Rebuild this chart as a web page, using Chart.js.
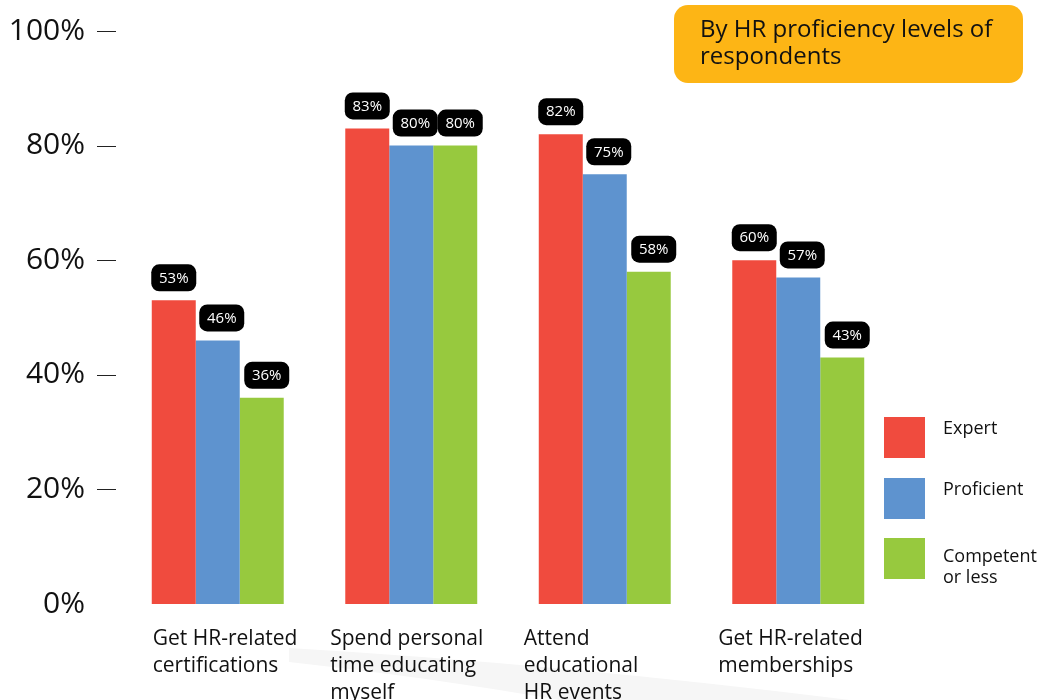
<!DOCTYPE html>
<html>
<head>
<meta charset="utf-8">
<script src="https://cdn.jsdelivr.net/npm/chart.js@4/dist/chart.umd.min.js"></script>
<style>
    body { margin: 0; background: #fff; }
    #wrap { width: 1044px; height: 700px; }
</style>
</head>
<body>
<div id="wrap"><canvas id="chart" width="1044" height="700"></canvas></div>
<script>
// activities asked about, one entry per line of the axis label
var categories = [
    ["Get HR-related", "certifications"],
    ["Spend personal", "time educating", "myself"],
    ["Attend", "educational", "HR events"],
    ["Get HR-related", "memberships"]
];
var levels = ["Expert", "Proficient", ["Competent", "or less"]];
var expert = [53, 83, 82, 60];
var proficient = [46, 80, 75, 57];
var competent = [36, 80, 58, 43];
var yTicks = [0, 20, 40, 60, 80, 100];
var boxTitle = ["By HR proficiency levels of", "respondents"];

var colors = ["#F04B3E", "#5E93CF", "#97C93E"];
var FONT = "'Open Sans', 'Noto Sans', sans-serif";

// where each category label starts, relative to the group centre
var labelShift = [-65, -81, -81, -80];
// small nudge of the value tags off the bar centre
var tagShift = [0, 4, 5];

function roundRect(ctx, x, y, w, h, r) {
    ctx.beginPath();
    ctx.moveTo(x + r, y);
    ctx.arcTo(x + w, y, x + w, y + h, r);
    ctx.arcTo(x + w, y + h, x, y + h, r);
    ctx.arcTo(x, y + h, x, y, r);
    ctx.arcTo(x, y, x + w, y, r);
    ctx.closePath();
}

var decorations = {
    id: "decorations",
    beforeDraw: function (chart) {
        var ctx = chart.ctx;
        // faint grey sweep under the labels
        ctx.save();
        ctx.fillStyle = "#f6f6f6";
        ctx.beginPath();
        ctx.moveTo(289, 648);
        ctx.quadraticCurveTo(560, 664, 850, 700);
        ctx.lineTo(560, 700);
        ctx.quadraticCurveTo(420, 676, 289, 662);
        ctx.closePath();
        ctx.fill();
        ctx.restore();
    },
    afterDraw: function (chart) {
        var ctx = chart.ctx;
        var y = chart.scales.y;
        var x = chart.scales.x;
        ctx.save();

        // dashes next to the percent labels
        ctx.strokeStyle = "#222";
        ctx.lineWidth = 1;
        yTicks.forEach(function (v) {
            if (v === 0) return;
            var py = Math.round(y.getPixelForValue(v)) + 0.5;
            ctx.beginPath();
            ctx.moveTo(97, py);
            ctx.lineTo(116, py);
            ctx.stroke();
        });

        // category labels
        ctx.fillStyle = "#111";
        ctx.font = "21px " + FONT;
        ctx.textAlign = "left";
        ctx.textBaseline = "alphabetic";
        categories.forEach(function (lines, i) {
            var px = x.getPixelForValue(i) + labelShift[i];
            lines.forEach(function (t, k) {
                ctx.fillText(t, px, 645 + k * 27);
            });
        });

        // black value tags over each bar
        ctx.font = "15px " + FONT;
        ctx.textAlign = "center";
        ctx.textBaseline = "middle";
        chart.data.datasets.forEach(function (ds, di) {
            chart.getDatasetMeta(di).data.forEach(function (bar, j) {
                var cx = bar.x + tagShift[di];
                var bottom = bar.y - 9;
                ctx.fillStyle = "#000";
                roundRect(ctx, cx - 22.5, bottom - 27, 45, 27, 8);
                ctx.fill();
                ctx.fillStyle = "#fff";
                ctx.fillText(ds.data[j] + "%", cx, bottom - 13);
            });
        });

        // legend
        ctx.textAlign = "left";
        ctx.textBaseline = "alphabetic";
        ctx.font = "18px " + FONT;
        var tops = [417, 478, 538];
        chart.data.datasets.forEach(function (ds, di) {
            ctx.fillStyle = ds.backgroundColor;
            ctx.fillRect(884, tops[di], 41, 41);
            ctx.fillStyle = "#111";
            var lines = [].concat(ds.label);
            lines.forEach(function (t, k) {
                ctx.fillText(t, 943, tops[di] + 17 + (lines.length > 1 ? 7 : 0) + k * 21);
            });
        });

        // orange note box
        ctx.fillStyle = "#FDB515";
        roundRect(ctx, 674, 5, 349, 78, 14);
        ctx.fill();
        ctx.fillStyle = "#111";
        ctx.font = "24px " + FONT;
        boxTitle.forEach(function (t, k) {
            ctx.fillText(t, 700, 37 + k * 27);
        });

        ctx.restore();
    }
};

new Chart(document.getElementById("chart"), {
    type: "bar",
    data: {
        labels: categories,
        datasets: [
            { label: levels[0], data: expert, backgroundColor: colors[0] },
            { label: levels[1], data: proficient, backgroundColor: colors[1] },
            { label: levels[2], data: competent, backgroundColor: colors[2] }
        ]
    },
    options: {
        responsive: false,
        animation: false,
        layout: { padding: { top: 31, right: 149, left: 0, bottom: 0 } },
        datasets: {
            bar: { categoryPercentage: 0.682, barPercentage: 1.0, borderWidth: 0 }
        },
        plugins: {
            legend: { display: false },
            tooltip: { enabled: false }
        },
        scales: {
            x: {
                grid: { display: false, drawTicks: false },
                border: { display: false },
                ticks: { display: false },
                afterFit: function (s) { s.height = 96; }
            },
            y: {
                min: 0,
                max: 100,
                afterBuildTicks: function (s) {
                    s.ticks = yTicks.map(function (v) { return { value: v }; });
                },
                grid: { display: false, drawTicks: false },
                border: { display: false },
                ticks: {
                    padding: 36,
                    color: "#111",
                    font: { family: FONT, size: 30 },
                    callback: function (v) { return v + "%"; }
                },
                afterFit: function (s) {
                    s.width = 121;
                    s.paddingTop = 0;
                    s.paddingBottom = 0;
                }
            }
        }
    },
    plugins: [decorations]
});
</script>
</body>
</html>
